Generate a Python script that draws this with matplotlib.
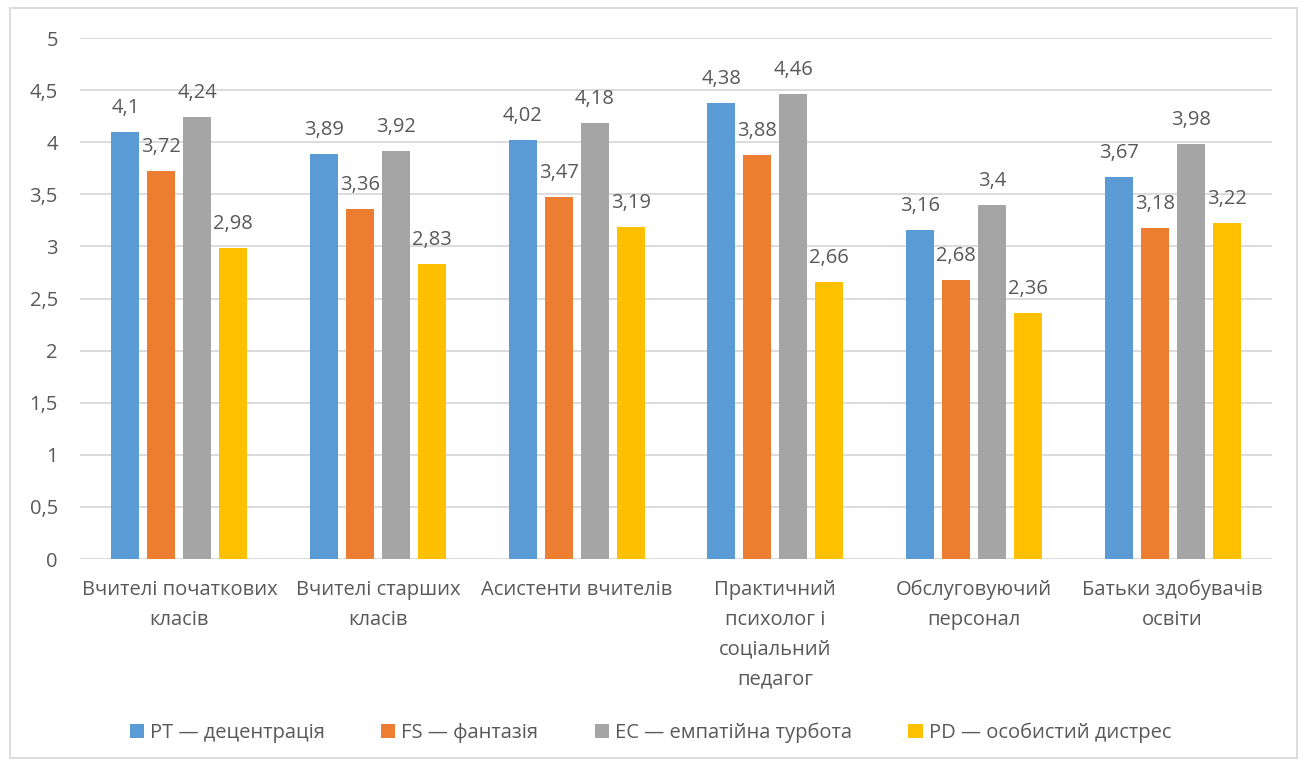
import numpy as np
import matplotlib.pyplot as plt
from matplotlib.patches import Rectangle

plt.rcParams['font.family'] = ['Open Sans', 'DejaVu Sans']

categories = ["Вчителі початкових\nкласів", "Вчителі старших\nкласів",
              "Асистенти вчителів", "Практичний\nпсихолог і\nсоціальний\nпедагог",
              "Обслуговуючий\nперсонал", "Батьки здобувачів\nосвіти"]
series_names = ["PT — децентрація", "FS — фантазія",
                "EC — емпатійна турбота", "PD — особистий дистрес"]
pt = [4.10, 3.89, 4.02, 4.38, 3.16, 3.67]
fs = [3.72, 3.36, 3.47, 3.88, 2.68, 3.18]
ec = [4.24, 3.92, 4.18, 4.46, 3.40, 3.98]
pd_ = [2.98, 2.83, 3.19, 2.66, 2.36, 3.22]
colors = ["#5B9BD5", "#ED7D31", "#A5A5A5", "#FFC000"]
yticks = [0, 0.5, 1, 1.5, 2, 2.5, 3, 3.5, 4, 4.5, 5]

txt = "#595959"
fig = plt.figure(figsize=(13.01, 7.62), dpi=100)
ax = fig.add_axes([0.0615, 0.2664, 0.9162, 0.6837])

x = np.arange(len(categories))
width = 0.141
step = 0.181
for i, (vals, name, c) in enumerate(zip([pt, fs, ec, pd_], series_names, colors)):
    xs = x + (i - 1.5) * step
    bars = ax.bar(xs, vals, width, color=c, label=name, zorder=3)
    for b, v in zip(bars, vals):
        ax.annotate(f"{v:g}".replace(".", ","), (b.get_x() + b.get_width() / 2, v),
                    xytext=(0, 24), textcoords='offset pixels',
                    ha='center', va='center', fontsize=14.5, color=txt)

ax.set_xlim(-0.5, len(categories) - 0.5)
ax.set_ylim(0, 5)
ax.set_yticks(yticks)
ax.set_yticklabels([f"{t:g}".replace(".", ",") for t in yticks])
ax.set_xticks(x)
ax.set_xticklabels(categories, linespacing=1.65)
ax.tick_params(axis='both', length=0, colors=txt, labelsize=14.5)
ax.tick_params(axis='y', pad=16)
ax.tick_params(axis='x', pad=15)
ax.grid(axis='y', color="#D9D9D9", linewidth=1.3, zorder=0)
for s in ax.spines.values():
    s.set_visible(False)

leg = fig.legend(loc='center', bbox_to_anchor=(0.5, 0.038), ncol=4, frameon=False,
                 handlelength=0.7, handleheight=0.7, handletextpad=0.3,
                 columnspacing=2.8, fontsize=14.5, labelcolor=txt)

fig.patches.append(Rectangle((10 / 1301, 4 / 762), 1287 / 1301, 750 / 762,
                             transform=fig.transFigure, fill=False,
                             edgecolor="#D9D9D9", linewidth=1.3))

fig.savefig("out.png", dpi=100)
